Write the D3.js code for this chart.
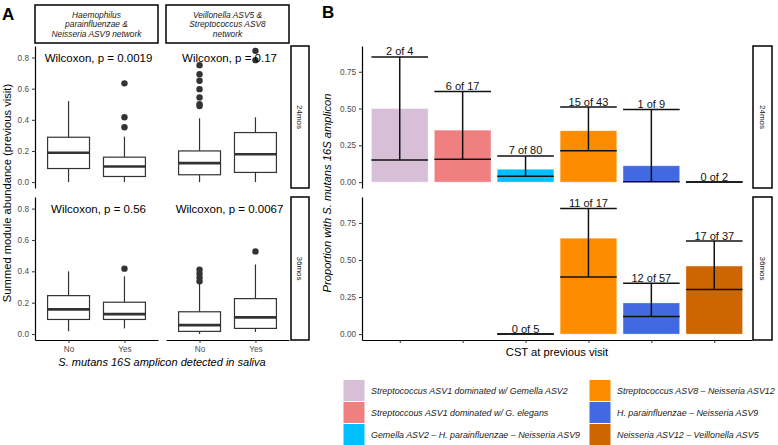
<!DOCTYPE html>
<html><head><meta charset="utf-8">
<script src="https://cdn.jsdelivr.net/npm/d3@7"></script>
<style>body{margin:0;background:#fff}svg{display:block}text{font-family:"Liberation Sans",Arial,Helvetica,sans-serif}</style>
</head><body>
<svg id="c" width="778" height="445"></svg>
<script>
// ---------- DATA ----------
const timepoints = ["24mos", "36mos"];
const networkLines = [
  ["Haemophilus", "parainfluenzae &", "Neisseria ASV9 network"],
  ["Veillonella ASV5 &", "Streptococcus ASV8", "network"]
];
const groups = ["No", "Yes"];
const yTicksA = [0, 0.2, 0.4, 0.6, 0.8];
// box stats [lowerWhisker, q1, median, q3, upperWhisker] per network per group
const boxes24 = [
  [[0.0, 0.087, 0.188, 0.288, 0.52], [0.0, 0.036, 0.10, 0.16, 0.292]],
  [[0.0, 0.047, 0.122, 0.20, 0.41], [0.0, 0.062, 0.179, 0.318, 0.416]]
];
const outliers24 = [
  [[], [0.634, 0.416, 0.352]],
  [[0.751, 0.693, 0.651, 0.597, 0.544, 0.501, 0.489], [0.843, 0.783]]
];
const boxes36 = [
  [[0.017, 0.093, 0.157, 0.245, 0.40], [0.036, 0.093, 0.127, 0.203, 0.368]],
  [[0.0, 0.017, 0.057, 0.142, 0.33], [0.013, 0.036, 0.106, 0.226, 0.444]]
];
const outliers36 = [
  [[], [0.417]],
  [[0.41, 0.385, 0.36, 0.336], [0.527]]
];
const pvals = [["0.0019", "0.17"], ["0.56", "0.0067"]];

const csts = [
  "Streptococcus ASV1 dominated w/ Gemella ASV2",
  "Streptoccous ASV1 dominated w/ G. elegans",
  "Gemella ASV2 \u2013 H. parainfluenzae \u2013 Neisseria ASV9",
  "Streptococcus ASV8 \u2013 Neisseria ASV12",
  "H. parainfluenzae \u2013 Neisseria ASV9",
  "Neisseria ASV12 \u2013 Veillonella ASV5"
];
const cstColors = ["#D8BFD8", "#F08080", "#00BFFF", "#FF8C00", "#4169E1", "#CD6600"];
const yTicksB = [0, 0.25, 0.5, 0.75];
const prop24 = [0.5, 0.353, 0.0875, 0.349, 0.111, 0];
const low24 = [0.15, 0.155, 0.04, 0.213, 0.003, 0];
const high24 = [0.851, 0.615, 0.178, 0.51, 0.494, 0];
const labels24 = ["2 of 4", "6 of 17", "7 of 80", "15 of 43", "1 of 9", "0 of 2"];
const prop36 = [null, null, 0, 0.647, 0.21, 0.459];
const low36 = [null, null, 0, 0.385, 0.118, 0.30];
const high36 = [null, null, 0, 0.848, 0.343, 0.628];
const labels36 = [null, null, "0 of 5", "11 of 17", "12 of 57", "17 of 37"];

// ---------- LAYOUT ----------
const svg = d3.select("#c");
const rows = [[46, 188], [197, 340]];
const grey = "#4d4d4d", dark = "#333333";

// Panel labels
svg.append("text").attr("x", 2).attr("y", 20).attr("font-size", 17).attr("font-weight", "bold").text("A");
svg.append("text").attr("x", 322).attr("y", 18).attr("font-size", 17).attr("font-weight", "bold").text("B");

// ---------- PANEL A ----------
const panelsA = [[35, 158], [166, 289]];
const boxesByRow = [boxes24, boxes36];
const outByRow = [outliers24, outliers36];

// top strips
panelsA.forEach((p, j) => {
  svg.append("rect").attr("x", p[0]).attr("y", 5).attr("width", p[1] - p[0]).attr("height", 38)
    .attr("fill", "#fff").attr("stroke", "#000").attr("stroke-width", 1.5);
  networkLines[j].forEach((ln, k) => {
    svg.append("text").attr("x", (p[0] + p[1]) / 2).attr("y", 17.5 + k * 9.5)
      .attr("text-anchor", "middle").attr("font-size", 8.4).attr("font-style", "italic")
      .attr("fill", "#1a1a1a").text(ln);
  });
});

rows.forEach((r, i) => {
  const y = d3.scaleLinear().domain([-0.038, 0.874]).range([r[1], r[0]]);
  // right strip
  svg.append("rect").attr("x", 291).attr("y", r[0]).attr("width", 18).attr("height", r[1] - r[0])
    .attr("fill", "#fff").attr("stroke", "#000").attr("stroke-width", 1.5);
  svg.append("text").attr("transform", `translate(${300},${(r[0] + r[1]) / 2}) rotate(90)`)
    .attr("text-anchor", "middle").attr("dy", "0.35em").attr("font-size", 8).attr("fill", "#1a1a1a")
    .text(timepoints[i]);
  // y axis
  const ax = svg.append("g").attr("transform", `translate(${panelsA[0][0]},0)`)
    .call(d3.axisLeft(y).tickValues(yTicksA).tickFormat(d3.format(".1f")).tickSize(3).tickSizeOuter(0));
  ax.select(".domain").attr("stroke", "#000").attr("stroke-width", 1.2);
  ax.selectAll(".tick line").attr("stroke", "#333");
  ax.selectAll(".tick text").attr("font-size", 8.2).attr("fill", grey).attr("font-family", "Liberation Sans, Arial, sans-serif");

  panelsA.forEach((p, j) => {
    const x = d3.scalePoint().domain(groups).range(p).padding(0.6);
    const bw = x.step() * 0.75;
    groups.forEach((g, k) => {
      const s = boxesByRow[i][j][k];
      const cx = x(g);
      const gg = svg.append("g");
      gg.append("line").attr("x1", cx).attr("x2", cx).attr("y1", y(s[0])).attr("y2", y(s[1])).attr("stroke", dark).attr("stroke-width", 1.2);
      gg.append("line").attr("x1", cx).attr("x2", cx).attr("y1", y(s[3])).attr("y2", y(s[4])).attr("stroke", dark).attr("stroke-width", 1.2);
      gg.append("rect").attr("x", cx - bw / 2).attr("y", y(s[3])).attr("width", bw).attr("height", y(s[1]) - y(s[3]))
        .attr("fill", "#fff").attr("stroke", dark).attr("stroke-width", 1.2);
      gg.append("line").attr("x1", cx - bw / 2).attr("x2", cx + bw / 2).attr("y1", y(s[2])).attr("y2", y(s[2])).attr("stroke", dark).attr("stroke-width", 2.6);
      outByRow[i][j][k].forEach(v => {
        gg.append("circle").attr("cx", cx).attr("cy", y(v)).attr("r", 3.2).attr("fill", dark);
      });
    });
    svg.append("text").attr("x", (p[0] + p[1]) / 2 + 2).attr("y", y(0.8)).attr("dy", "0.35em")
      .attr("text-anchor", "middle").attr("font-size", 11.5).attr("fill", "#000")
      .text(`Wilcoxon, p = ${pvals[i][j]}`);
    if (i === 1) {
      const bx = svg.append("g").attr("transform", `translate(0,${r[1]})`)
        .call(d3.axisBottom(x).tickSize(3).tickSizeOuter(0));
      bx.select(".domain").attr("stroke", "#000").attr("stroke-width", 1.2);
      bx.selectAll(".tick line").attr("stroke", "#333");
      bx.selectAll(".tick text").attr("font-size", 8.2).attr("fill", grey).attr("font-family", "Liberation Sans, Arial, sans-serif");
    }
  });
});
svg.append("text").attr("transform", `translate(11,193) rotate(-90)`).attr("text-anchor", "middle")
  .attr("font-size", 11.2).text("Summed module abundance (previous visit)");
svg.append("text").attr("x", 162).attr("y", 366).attr("text-anchor", "middle")
  .attr("font-size", 11).attr("font-style", "italic").text("S. mutans 16S amplicon detected in saliva");

// ---------- PANEL B ----------
const xB = d3.scalePoint().domain(csts).range([362, 752]).padding(0.6);
const bwB = xB.step() * 0.9;
const propByRow = [prop24, prop36], lowByRow = [low24, low36], highByRow = [high24, high36], labByRow = [labels24, labels36];
rows.forEach((r, i) => {
  const y = d3.scaleLinear().domain([-0.04, 0.925]).range([r[1], r[0]]);
  svg.append("rect").attr("x", 753).attr("y", r[0]).attr("width", 19).attr("height", r[1] - r[0])
    .attr("fill", "#fff").attr("stroke", "#000").attr("stroke-width", 1.5);
  svg.append("text").attr("transform", `translate(${762.5},${(r[0] + r[1]) / 2}) rotate(90)`)
    .attr("text-anchor", "middle").attr("dy", "0.35em").attr("font-size", 8).attr("fill", "#1a1a1a")
    .text(timepoints[i]);
  const ax = svg.append("g").attr("transform", `translate(362,0)`)
    .call(d3.axisLeft(y).tickValues(yTicksB).tickFormat(d3.format(".2f")).tickSize(3).tickSizeOuter(0));
  ax.select(".domain").attr("stroke", "#000").attr("stroke-width", 1.2);
  ax.selectAll(".tick line").attr("stroke", "#333");
  ax.selectAll(".tick text").attr("font-size", 8.2).attr("fill", grey).attr("font-family", "Liberation Sans, Arial, sans-serif");

  csts.forEach((c, k) => {
    const v = propByRow[i][k];
    if (v === null) return;
    const cx = xB(c);
    svg.append("rect").attr("x", cx - bwB / 2).attr("y", y(v)).attr("width", bwB).attr("height", y(0) - y(v))
      .attr("fill", cstColors[k]).attr("stroke", "#fff").attr("stroke-opacity", 0.4).attr("stroke-width", 0.8);
  });
  csts.forEach((c, k) => {
    const v = propByRow[i][k];
    if (v === null) return;
    const cx = xB(c);
    const lo = lowByRow[i][k], hi = highByRow[i][k];
    const g = svg.append("g").attr("stroke", "#111").attr("stroke-width", 1.5);
    g.append("line").attr("x1", cx - bwB / 2).attr("x2", cx + bwB / 2).attr("y1", y(lo)).attr("y2", y(lo));
    g.append("line").attr("x1", cx - bwB / 2).attr("x2", cx + bwB / 2).attr("y1", y(hi)).attr("y2", y(hi));
    g.append("line").attr("x1", cx).attr("x2", cx).attr("y1", y(lo)).attr("y2", y(hi));
    svg.append("text").attr("x", cx).attr("y", y(hi) - 1.5).attr("text-anchor", "middle")
      .attr("font-size", 11).attr("fill", "#111").text(labByRow[i][k]);
  });
  if (i === 1) {
    const bx = svg.append("g").attr("transform", `translate(0,${r[1]})`)
      .call(d3.axisBottom(xB).tickSize(3).tickSizeOuter(0).tickFormat(""));
    bx.select(".domain").attr("stroke", "#000").attr("stroke-width", 1.2);
    bx.selectAll(".tick line").attr("stroke", "#333");
  }
});
svg.append("text").attr("transform", `translate(331,193) rotate(-90)`).attr("text-anchor", "middle")
  .attr("font-size", 11.2).attr("font-style", "italic").text("Proportion with S. mutans 16S amplicon");
svg.append("text").attr("x", 557).attr("y", 356).attr("text-anchor", "middle")
  .attr("font-size", 11.2).text("CST at previous visit");

// Legend
const legCols = [343.5, 589.5];
csts.forEach((c, k) => {
  const col = Math.floor(k / 3), row = k % 3;
  const lx = legCols[col], ly = 380 + row * 22;
  svg.append("rect").attr("x", lx).attr("y", ly).attr("width", 21).attr("height", 21).attr("fill", cstColors[k]);
  svg.append("text").attr("x", lx + 27.5).attr("y", ly + 10.5).attr("dy", "0.35em")
    .attr("font-size", 8.9).attr("font-style", "italic").attr("fill", "#1a1a1a").text(c);
});
</script>
</body></html>
